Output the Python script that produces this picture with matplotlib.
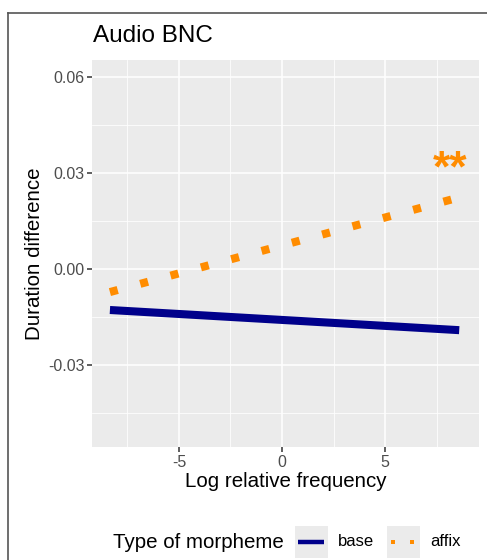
import numpy as np
import matplotlib
matplotlib.use("Agg")
import matplotlib.pyplot as plt
from matplotlib.lines import Line2D
from matplotlib.patches import Rectangle
from matplotlib.ticker import MultipleLocator

plt.rcParams['font.family'] = ['Liberation Sans', 'DejaVu Sans']
plt.rcParams['axes.unicode_minus'] = False

# fitted lines (endpoints)
freq_base = [-8.35, 8.6]
base = [-0.0128, -0.0191]
freq_affix = [-8.35, 8.5]
affix = [-0.0072, 0.0222]
star_x, star_y = 8.15, 0.031

xticks = [-5, 0, 5]
yticks = [0.06, 0.03, 0.00, -0.03]
ytick_labels = ["0.06", "0.03", "0.00", "-0.03"]

W, H = 487, 560
fig = plt.figure(figsize=(W / 100, H / 100), dpi=100)
ax = fig.add_axes([92 / W, 1 - 447 / H, (479 - 92) / W, (447 - 60) / H])

ax.set_facecolor("#EBEBEB")
ax.set_xlim(-9.22, 9.56)
ax.set_ylim(-0.0556, 0.0653)
ax.set_xticks(xticks)
ax.set_yticks(yticks)
ax.set_yticklabels(ytick_labels)
ax.xaxis.set_minor_locator(MultipleLocator(2.5))
ax.yaxis.set_minor_locator(MultipleLocator(0.015))
ax.grid(which="major", color="white", linewidth=1.1)
ax.grid(which="minor", color="white", linewidth=0.55)
ax.set_axisbelow(True)
for s in ax.spines.values():
    s.set_visible(False)
ax.tick_params(which="major", length=3.5, width=1.1, color="#333333",
               labelsize=11.5, labelcolor="#4D4D4D", pad=2)
ax.tick_params(which="minor", length=0)

ax.plot(freq_base, base, color="#00008B", linewidth=5.8, solid_capstyle="butt")
ax.plot(freq_affix, affix, color="#FF8C00", linewidth=5.8,
        linestyle=(0, (1, 2.9)), dash_capstyle="butt")
ax.text(star_x, star_y, "**", color="#FF8C00", fontsize=32, fontweight="bold",
        ha="center", va="center")

ax.set_xlabel("Log relative frequency", fontsize=14.8, labelpad=2)
ax.set_ylabel("Duration difference", fontsize=14.8, labelpad=3)
fig.text(93 / W, 1 - 36 / H, "Audio BNC", fontsize=17.5, va="center", ha="left")

# frame lines (top and left)
fig.add_artist(Line2D([8 / W, 1], [1 - 13 / H, 1 - 13 / H], color="#555555", linewidth=1.2))
fig.add_artist(Line2D([8 / W, 8 / W], [0, 1 - 13 / H], color="#555555", linewidth=1.2))

# legend at the bottom
ly = 1 - 542 / H
fig.text(113 / W, ly, "Type of morpheme", fontsize=14.8, va="center", ha="left")
for x0 in (295, 387):
    fig.add_artist(Rectangle((x0 / W, 1 - 558 / H), 33 / W, 32 / H,
                             facecolor="#EBEBEB", edgecolor="none"))
fig.add_artist(Line2D([298 / W, 324 / W], [ly, ly], color="#00008B", linewidth=3.2,
                      solid_capstyle="butt"))
fig.add_artist(Line2D([393 / W, 412 / W], [ly, ly], color="#FF8C00", linestyle="none",
                      marker="s", markersize=3.2, markeredgewidth=0))
fig.text(338 / W, ly, "base", fontsize=12, va="center", ha="left")
fig.text(430 / W, ly, "affix", fontsize=12, va="center", ha="left")

fig.savefig("out.png", dpi=100)
